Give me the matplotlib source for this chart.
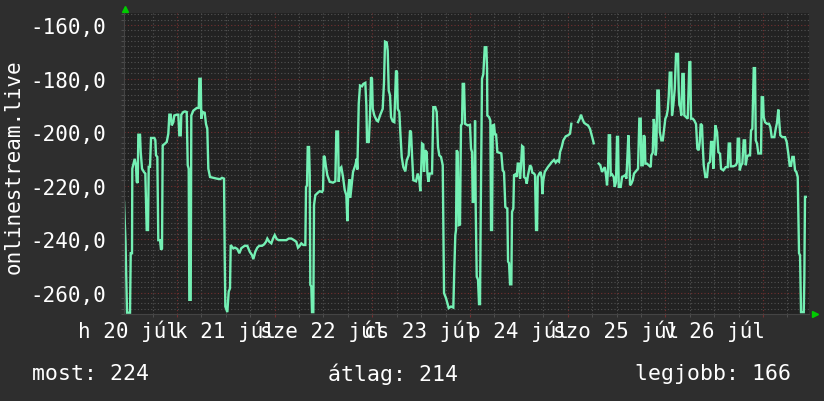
import numpy as np
import matplotlib
matplotlib.use("Agg")
import matplotlib.pyplot as plt
from matplotlib.transforms import blended_transform_factory

# hours since 2020-07-20 00:00 and values (nan = no data)
hours = [10.98, 11.35, 11.72, 12.46, 12.63, 12.95, 13.02, 13.61, 13.93, 14.10, 14.35, 14.50, 14.92, 15.09,
         15.41, 15.90, 16.22, 16.56, 16.88, 17.05, 17.37, 17.62, 18.43, 18.68, 18.85, 19.17, 19.41, 19.83,
         20.08, 20.32, 20.49, 21.06, 21.48, 21.87, 22.12, 22.46, 22.71, 23.10, 23.34, 23.93, 24.33, 24.57,
         24.92, 25.06, 25.56, 25.97, 26.39, 26.64, 26.88, 27.03, 27.37, 27.52, 28.01, 28.85, 29.34, 29.49,
         29.83, 29.98, 30.32, 30.81, 31.13, 31.45, 31.70, 32.12, 32.93, 33.76, 34.57, 35.07, 35.56, 35.73,
         35.88, 36.37, 36.71, 37.03, 37.20, 37.84, 38.26, 38.83, 39.32,
         39.81, 40.64, 41.28, 41.87, 42.44, 42.76, 43.25, 43.74, 44.23, 44.90, 45.39, 45.88, 46.20, 46.69,
         47.18, 47.60, 48.02, 48.51, 49.00, 50.06, 50.87, 51.46, 52.10, 52.76, 53.32, 53.74, 54.16, 54.55,
         55.04, 55.54, 55.71, 55.95, 56.13, 56.45, 56.62, 56.76, 57.01, 57.18, 57.50, 57.67, 57.99, 58.66,
         59.07, 59.64, 59.89, 60.06, 60.30, 60.55, 60.94, 61.53, 62.34, 62.91, 63.15, 63.57, 63.74, 63.99,
         64.38, 64.80, 65.22, 65.61, 65.86, 66.10, 66.35, 66.59, 66.84, 67.26, 67.82, 68.17, 68.32,
         68.66, 68.98, 69.47, 69.79, 70.28, 70.53, 70.70, 71.12, 71.43, 71.68, 71.92, 72.10, 72.49, 73.08,
         73.40, 73.89, 74.55, 74.87, 75.12, 75.54, 75.78, 76.03, 76.35, 76.59, 77.01, 77.40, 77.65, 77.82,
         78.07, 78.24, 78.63, 78.88, 79.22, 79.62, 80.11, 80.45, 80.94, 81.26, 81.51, 81.76, 82.07, 82.74,
         83.15, 83.55, 83.79, 84.04, 84.21, 84.53, 84.70, 84.95, 85.37, 85.51, 85.76, 86.10, 86.67, 86.99,
         87.48, 87.82, 88.14, 88.46, 88.88, 89.30, 89.44, 89.62, 90.11, 90.43, 90.77, 91.34, 91.90, 92.15,
         92.39, 92.56, 92.73, 92.98, 93.22, 93.54, 93.79, 94.04, 94.21, 94.53, 94.78, 95.44, 96.00, 96.25,
         96.50, 96.67, 97.06, 97.24, 97.41,
         97.65, 97.97, 98.22, 98.46, 98.64, 98.95, 99.28, 99.62, 100.02, 100.19, 100.26, 100.68, 101.00,
         101.17, 101.42, 101.59, 101.90, 102.15, 102.40, 102.72, 103.38, 103.70, 104.04, 104.36, 104.68,
         105.17, 105.35, 105.59, 105.84, 106.16, 106.33, 106.65, 106.82, 107.24, 107.49, 107.73, 108.05,
         108.30, 108.55, 108.79, 109.11, 109.28, 109.70, 109.94, 110.26, 110.51, 110.75, 111.07, 111.32,
         111.74, 111.98, 112.23, 112.48, 112.65, 113.04, 113.38, 113.63, 113.78, 114.02, 114.37, 114.86,
         115.17, 115.66, 115.98, 116.65, 117.06, 117.46, 117.88, 118.12, 118.54, 118.93, 119.52, 120.09,
         120.58, 120.90, 121.70,
         122.54, 122.96, 123.28, 123.60, 124.02, 124.43, 125.00, 125.49, 125.81, 126.23, 126.40, 127.00,
         127.63, 128.02, 128.44, 128.86, 129.10, 129.42, 129.67, 129.92, 130.09, 130.41, 130.58, 130.90,
         131.32, 131.56, 131.88, 132.13, 132.37, 132.55, 133.04, 133.36, 134.17, 134.42, 134.66, 134.91,
         135.15, 135.32, 135.64, 135.99, 136.31, 136.97, 137.29, 137.61, 137.95, 138.10, 138.44, 138.69,
         138.94, 139.09, 139.50, 139.92, 140.41, 140.56, 140.90, 141.15, 141.40, 141.64, 141.79, 142.03,
         142.38, 142.63, 143.02, 143.37, 143.61, 144.00, 144.34, 144.59, 144.83, 145.08, 145.47, 145.64,
         145.96, 146.31, 146.63, 147.12, 147.29, 147.44, 147.68, 147.93, 148.18, 148.52, 148.67, 149.09,
         149.50, 149.90, 150.14, 150.31, 150.73, 151.12, 151.54, 151.86, 152.20, 152.45, 152.69, 153.01,
         153.19, 153.43, 153.83, 154.24, 154.57, 154.98, 155.23, 155.55, 155.80, 156.04, 156.29, 156.71,
         157.03, 157.44, 157.69, 158.25, 158.84, 159.33, 159.58, 159.90, 160.07, 160.71, 161.30, 161.62,
         161.79, 162.11, 162.28, 162.60, 162.92, 163.26, 163.59, 163.76, 164.07, 164.40, 164.81, 165.06,
         165.38, 165.72, 166.04, 166.21, 166.53, 166.85, 167.51, 167.68, 168.00, 168.17, 168.49, 168.98,
         169.47, 169.80, 170.14, 170.78, 171.12, 171.44, 171.76, 172.01, 172.25, 172.75, 173.41, 173.82,
         174.22, 174.56, 174.88, 175.20, 175.55, 175.87, 176.19, 176.53, 176.85, 177.10, 177.34, 178.01,
         178.15, 178.32, 178.49]

values = [-226, -241, -267.5, -267.5, -245.3, -245.3, -213.7, -210, -212.5, -218.6, -219, -201, -201, -207.5,
          -213.7, -215, -215.5, -236.6, -236.6, -213, -213, -202.2, -202.2, -203, -208.7, -209.3, -240.4, -240.4,
          -244, -243.5, -205, -204.3, -203.7, -200.6, -193.5, -193.5, -197.5, -196.3, -193.8, -193.5, -193.5, -201.2,
          -201.2, -193.5, -192.5, -192.3, -192.5, -212.4, -213.7, -262.7, -262.7, -193.8, -192, -191, -191, -180.1,
          -180.1, -195, -192.5, -192.8, -197, -198.8, -213.7, -216.8, -217.1, -217.4, -217.6, -217.1, -217.4, -247,
          -265.2, -267.3, -259.6, -258.4, -242.2, -243.5, -243.2, -243.7, -245.3,
          -243.4, -242.5, -242.5, -244.7, -246, -247.5, -244.7, -243.2, -242.5, -242.5, -242, -241, -239.8, -241,
          -241.6, -239.8, -238.5, -240, -240.4, -240.4, -240.4, -239.8, -239.8, -240.4, -241, -243.2, -242.5, -241.6,
          -242.2, -242.2, -220.5, -220, -205.6, -205.6, -216.1, -257.1, -257.7, -267.3, -267.3, -227.3, -223.6, -222.6,
          -222.1, -222.4, -221.7, -208.9, -209.3, -212.4, -216.1, -218.6, -218.9, -218.4, -199.8, -199.8, -218.6, -213.7,
          -213.1, -216.8, -221.7, -223.6, -233.3, -221.7, -217.6, -224.6, -221.1, -214.9, -212.4, -210, -214,
          -189.4, -182.6, -182.9, -182, -181.6, -190, -203.7, -203.7, -193.8, -179.5, -180, -191.3, -193.8, -195.7,
          -196, -193.8, -191.3, -181.4, -166.2, -166.5, -169.6, -184.5, -186.3, -194.4, -196, -196.3, -185, -177,
          -177.6, -191.3, -192.5, -200, -209.3, -213.1, -214.7, -210.6, -208.7, -199.4, -200, -208.7, -218, -218.4,
          -215.5, -218, -222.1, -212.4, -204.3, -204.7, -214.9, -206.8, -207.5, -214.9, -218.6, -215.5, -215.5, -190.7,
          -190.7, -192.5, -205.6, -208.7, -209.3, -212.4, -234.8, -260.2, -262.1, -263.9, -265.8, -265.2, -265.6, -250.9,
          -238.5, -236.6, -206.8, -207.5, -234.8, -234.6, -197.5, -196.9, -182, -182, -196.9, -197.5, -197.3, -206.2,
          -207.5, -226.1, -226.1, -195.7, -228.8,
          -254, -255.2, -264.3, -264.3, -229.8, -180.1, -178.3, -168.3, -168.3, -176.4, -193.8, -194.4, -195.7,
          -236.6, -236.6, -197.5, -197.3, -201.2, -200.6, -207.5, -207.8, -208, -214.3, -215, -228,
          -228.6, -248.4, -249, -256.9, -256.9, -229.8, -228.6, -216.1, -215.7, -216.8, -211.8, -211.8,
          -217.4, -212.4, -205.2, -205.6, -216.8, -217.4, -219.3, -216.1, -214.3, -212.4, -213.1, -215.2,
          -215.5, -216.1, -236.6, -236.6, -216.8, -215.5, -214.9, -217.4, -223.2, -218, -214.9, -213.7,
          -213, -212.1, -211.4, -210.4, -211.4, -210.6, -211.1, -207.5, -205.6, -203.1, -201.6, -201.2,
          -200.6, -196.9, np.nan,
          -196.3, -195, -193.5, -195, -196.5, -197, -197.5, -198.8, -200.6, -203.1, -204.2, np.nan,
          -211.8, -212.4, -214.9, -213.7, -213.1, -216.1, -219.9, -213.7, -201.2, -201.2, -216.1, -215.8,
          -216.8, -220.5, -218.6, -201.8, -201.8, -220.5, -220.5, -216.8, -216.1, -217.4, -209.9, -201.2,
          -208.7, -219.9, -219.3, -218, -215.5, -214.3, -213.7, -195, -195, -212.4, -212.4, -201.2,
          -201.8, -211.8, -211.8, -212.4, -213.1, -208.7, -207.7, -195.1, -198.8, -208.7, -206.2, -184.5,
          -184.5, -200, -203.1, -203.1, -200, -195, -193.8, -191.6, -186.7, -177.8, -177.8, -193.8,
          -190, -183.9, -170.8, -170.8, -184.8, -189.8, -190.7, -193.8, -178.3, -178.3, -193.8, -194.4,
          -195, -173.9, -173.9, -195, -195, -195.7, -197, -206.2, -206.8, -203.7, -196.9, -197.5,
          -205, -212.4, -216.8, -216.8, -211.8, -211.1, -203.7, -203.7, -213.7, -206, -197.5, -200,
          -207.5, -208.1, -213.7, -214.3, -213.1, -213.1, -204.3, -204.3, -212.8, -212.8, -212.4, -211.4,
          -202.5, -202.5, -214.3, -212.4, -211.8, -203.1, -203.1, -212.4, -209.3, -208.7, -208.7, -199.4,
          -198.8, -176.1, -176.1, -203.1, -204.3, -208, -208, -187, -187, -194.4, -196.3, -196.9,
          -196.9, -198.1, -201.9, -201.9, -198.8, -196.5, -191.6, -196.5, -201.2, -201.9, -201.9, -203.7,
          -208.1, -212.6, -212.6, -209.3, -209.3, -214.3, -214.9, -216.8, -245.3, -246, -267.3, -267.3,
          -255, -224.2, -224.2]

day_labels = ["h 20 júl", "k 21 júl", "sze 22 júl", "cs 23 júl", "p 24 júl", "szo 25 júl", "v 26 júl"]
day_noon = [12, 36, 60, 84, 108, 132, 156]
midnights = [24, 48, 72, 96, 120, 144, 168]
y_major = [-260, -240, -220, -200, -180, -160]
legend_texts = ["most: 224", "átlag: 214", "legjobb: 166"]

W, H = 824, 402
bg = "#2e2e2e"
canvas = "#222222"
line_col = "#74f0b4"
fs = 15

plt.rcParams['font.family'] = 'DejaVu Sans Mono'
fig = plt.figure(figsize=(W / 100, H / 100), dpi=100, facecolor=bg)
ax = fig.add_axes([124 / W, (H - 315) / H, (809 - 124) / W, (315 - 14) / H])
ax.set_facecolor(canvas)

ax.plot(hours, values, color=line_col, lw=1.7, solid_joinstyle='miter')

ax.set_xlim(10.98, 179.3)
ax.set_ylim(-268.0, -155.5)

# grids
ax.set_xticks(midnights)
ax.set_xticks(np.arange(18, 179, 6), minor=True)
ax.set_yticks(y_major)
ax.set_yticks(np.arange(-268, -155, 2), minor=True)
ax.grid(which='minor', color='#525252', lw=0.8, linestyle=(0, (1, 2)))
ax.grid(which='major', color='#723030', lw=0.8, linestyle=(0, (1, 2)))
ax.set_axisbelow(True)

ax.set_xticklabels([])
ax.set_yticklabels([("%.1f" % v).replace('.', ',') for v in y_major])
ax.tick_params(axis='y', which='major', length=0, pad=13, labelsize=fs, labelcolor='white')
ax.tick_params(which='minor', length=2, color='#555555')
ax.tick_params(axis='x', which='major', length=2, color='#723030')

for s in ['top', 'right']:
    ax.spines[s].set_visible(False)
for s in ['left', 'bottom']:
    ax.spines[s].set_color('#444444')

# arrows
ax.plot([0.002], [1.013], marker='^', color='#00cc00', ms=5, transform=ax.transAxes, clip_on=False)
ax.plot([1.009], [0.0], marker='>', color='#00cc00', ms=5, transform=ax.transAxes, clip_on=False)

# day labels at noon
tr = blended_transform_factory(ax.transData, fig.transFigure)
for x, lab in zip(day_noon, day_labels):
    ax.text(x, (H - 331) / H, lab, transform=tr, ha='center', va='center',
            color='white', fontsize=fs, clip_on=False)

fig.text(14 / W, (H - 167) / H, "onlinestream.live", rotation=90, ha='center', va='center',
         color='white', fontsize=fs)

fig.text(32 / W, (H - 374) / H, legend_texts[0], ha='left', va='center', color='white', fontsize=15.5)
fig.text(328 / W, (H - 374) / H, legend_texts[1], ha='left', va='center', color='white', fontsize=15.5)
fig.text(635 / W, (H - 374) / H, legend_texts[2], ha='left', va='center', color='white', fontsize=15.5)

fig.savefig("out.png", dpi=100, facecolor=bg)
